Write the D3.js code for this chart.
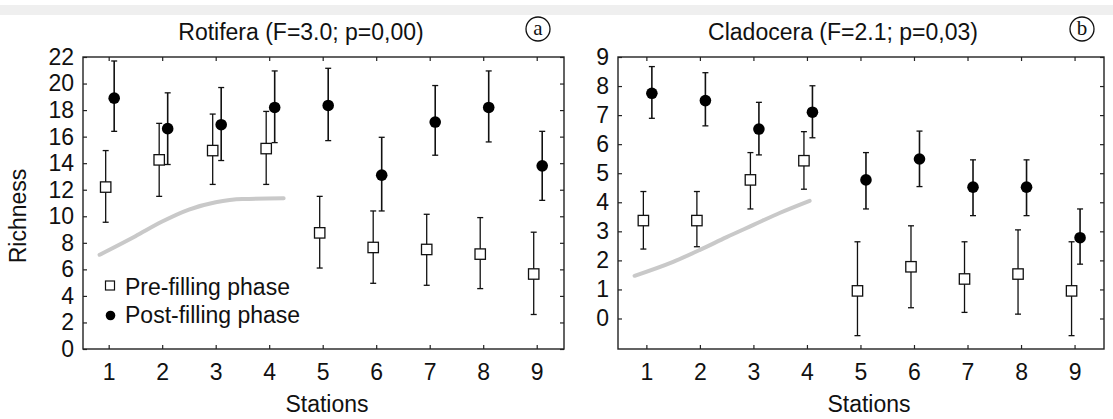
<!DOCTYPE html>
<html>
<head>
<meta charset="utf-8">
<script src="https://cdn.jsdelivr.net/npm/d3@7"></script>
<style>
  body { margin: 0; background: #fff; }
  svg text { font-family: "Liberation Sans", Arial, sans-serif; fill: #111; }
</style>
</head>
<body>
<script>
// data
var stations = [1, 2, 3, 4, 5, 6, 7, 8, 9];
var rotTicks = [0, 2, 4, 6, 8, 10, 12, 14, 16, 18, 20, 22];
var cladTicks = [0, 1, 2, 3, 4, 5, 6, 7, 8, 9];

// Rotifera
var rotPreMean  = [12.2, 14.25, 14.95, 15.1, 8.75, 7.65, 7.5, 7.15, 5.65];
var rotPreLow   = [9.55, 11.5, 12.4, 12.4, 6.1, 4.95, 4.8, 4.55, 2.6];
var rotPreHigh  = [14.95, 17.0, 17.7, 17.9, 11.5, 10.4, 10.15, 9.9, 8.8];
var rotPostMean = [18.9, 16.6, 16.9, 18.2, 18.35, 13.1, 17.1, 18.2, 13.8];
var rotPostLow  = [16.4, 13.9, 14.2, 15.55, 15.7, 10.4, 14.6, 15.6, 11.2];
var rotPostHigh = [21.7, 19.3, 19.7, 20.95, 21.15, 15.95, 19.85, 20.95, 16.4];
var rotTrendX = [0.83, 1.5, 2, 2.5, 3, 3.5, 4.27];
var rotTrendY = [7.1, 8.5, 9.6, 10.5, 11.05, 11.3, 11.35];

// Cladocera
var cladPreMean  = [3.37, 3.37, 4.77, 5.43, 0.95, 1.78, 1.36, 1.53, 0.95];
var cladPreLow   = [2.39, 2.47, 3.77, 4.45, -0.59, 0.37, 0.21, 0.15, -0.59];
var cladPreHigh  = [4.37, 4.37, 5.71, 6.43, 2.64, 3.19, 2.64, 3.05, 2.64];
var cladPostMean = [7.75, 7.5, 6.52, 7.1, 4.77, 5.49, 4.52, 4.52, 2.78];
var cladPostLow  = [6.89, 6.63, 5.63, 6.22, 3.77, 4.54, 3.54, 3.54, 1.87];
var cladPostHigh = [8.67, 8.46, 7.44, 8.01, 5.71, 6.45, 5.46, 5.46, 3.77];
var cladTrendX = [0.78, 1.5, 2, 2.5, 3, 3.5, 4.05];
var cladTrendY = [1.47, 1.95, 2.36, 2.8, 3.22, 3.64, 4.05];

var legendLabels = ["Pre-filling phase", "Post-filling phase"];

var width = 1113, height = 419;
var fs = "23px";
var svg = d3.select("body").append("svg")
    .attr("width", width)
    .attr("height", height);

// grå list högst upp
svg.append("rect").attr("x", 0).attr("y", 5).attr("width", width).attr("height", 10)
    .attr("fill", "#efefef");

function drawPanel(p) {
    var x = d3.scaleLinear().domain(p.xDomain).range([p.left, p.right]);
    var y = d3.scaleLinear().domain(p.yDomain).range([349, 57]);
    var g = svg.append("g");

    // axes, ticks pointing inwards
    g.append("g").attr("transform", "translate(" + p.left + ",0)")
        .call(d3.axisLeft(y).tickValues(p.yTicks).tickSizeInner(-4).tickSizeOuter(0).tickPadding(9));
    g.append("g").attr("transform", "translate(" + p.right + ",0)")
        .call(d3.axisRight(y).tickValues(p.yTicks).tickSizeInner(-4).tickSizeOuter(0).tickFormat(""));
    g.append("g").attr("transform", "translate(0,349)")
        .call(d3.axisBottom(x).tickValues(stations).tickSizeInner(-4).tickSizeOuter(0).tickPadding(15));
    g.append("g").attr("transform", "translate(0,57)")
        .call(d3.axisTop(x).tickValues(stations).tickSizeInner(-4).tickSizeOuter(0).tickFormat(""));
    g.selectAll(".domain").remove();
    g.selectAll(".tick line").attr("stroke", "#222").attr("stroke-width", 1.2);
    g.selectAll(".tick text").style("font-size", fs).attr("fill", "#111");

    g.append("rect").attr("x", p.left).attr("y", 57)
        .attr("width", p.right - p.left).attr("height", 292)
        .attr("fill", "none").attr("stroke", "#222").attr("stroke-width", 1.4);

    // grey trend line
    var trend = p.trendX.map(function(d, i) { return [d, p.trendY[i]]; });
    g.append("path").datum(trend)
        .attr("d", d3.line().x(function(d) { return x(d[0]); }).y(function(d) { return y(d[1]); })
            .curve(d3.curveMonotoneX))
        .attr("fill", "none").attr("stroke", "#c9c9c9").attr("stroke-width", 4)
        .attr("stroke-linecap", "round");

    // error bars
    function bars(low, high, dx, sw) {
        var eg = g.append("g");
        stations.forEach(function(s, i) {
            var cx = x(s) + dx;
            eg.append("line").attr("x1", cx).attr("x2", cx)
                .attr("y1", y(low[i])).attr("y2", y(high[i]))
                .attr("stroke", "#111").attr("stroke-width", sw);
            [low[i], high[i]].forEach(function(v) {
                eg.append("line").attr("x1", cx - 3).attr("x2", cx + 3)
                    .attr("y1", y(v)).attr("y2", y(v))
                    .attr("stroke", "#111").attr("stroke-width", 1.3);
            });
        });
    }
    bars(p.preLow, p.preHigh, -3, 1.3);
    bars(p.postLow, p.postHigh, 5.5, 1.6);

    g.selectAll("rect.pre").data(p.preMean).enter().append("rect")
        .attr("class", "pre")
        .attr("x", function(d, i) { return x(stations[i]) - 3 - 5.2; })
        .attr("y", function(d) { return y(d) - 5.2; })
        .attr("width", 10.4).attr("height", 10.4)
        .attr("fill", "#fff").attr("stroke", "#111").attr("stroke-width", 1.3);
    g.selectAll("circle.post").data(p.postMean).enter().append("circle")
        .attr("class", "post")
        .attr("cx", function(d, i) { return x(stations[i]) + 5.5; })
        .attr("cy", function(d) { return y(d); })
        .attr("r", 5.8).attr("fill", "#000");

    // titles
    g.append("text").attr("x", p.titleX).attr("y", 40).attr("text-anchor", "middle")
        .style("font-size", fs).text(p.title);
    g.append("circle").attr("cx", p.tagX).attr("cy", 29).attr("r", 12)
        .attr("fill", "none").attr("stroke", "#111").attr("stroke-width", 1.3);
    g.append("text").attr("x", p.tagX).attr("y", 35).attr("text-anchor", "middle")
        .style("font-family", "'Liberation Serif', 'Times New Roman', serif")
        .style("font-size", "21px").text(p.tag);
    g.append("text").attr("x", p.xLabelX).attr("y", 412).attr("text-anchor", "middle")
        .style("font-size", fs).text("Stations");
}

drawPanel({
    left: 83, right: 564, xDomain: [0.52, 9.51], yDomain: [0, 22], yTicks: rotTicks,
    preMean: rotPreMean, preLow: rotPreLow, preHigh: rotPreHigh,
    postMean: rotPostMean, postLow: rotPostLow, postHigh: rotPostHigh,
    trendX: rotTrendX, trendY: rotTrendY,
    title: "Rotifera (F=3.0; p=0,00)", titleX: 301, tag: "a", tagX: 538, xLabelX: 327
});
drawPanel({
    left: 618, right: 1104, xDomain: [0.47, 9.55], yDomain: [-1.05, 9], yTicks: cladTicks,
    preMean: cladPreMean, preLow: cladPreLow, preHigh: cladPreHigh,
    postMean: cladPostMean, postLow: cladPostLow, postHigh: cladPostHigh,
    trendX: cladTrendX, trendY: cladTrendY,
    title: "Cladocera (F=2.1; p=0,03)", titleX: 843, tag: "b", tagX: 1082, xLabelX: 869
});

// y axis label
svg.append("text").attr("transform", "translate(26,216) rotate(-90)")
    .attr("text-anchor", "middle").style("font-size", fs).text("Richness");

// legend
var legend = svg.append("g");
legend.append("rect").attr("x", 105.5).attr("y", 281).attr("width", 9).attr("height", 9)
    .attr("fill", "#fff").attr("stroke", "#111").attr("stroke-width", 1.2);
legend.append("circle").attr("cx", 110.5).attr("cy", 315.5).attr("r", 4.8).attr("fill", "#000");
legend.selectAll("text").data(legendLabels).enter().append("text")
    .attr("x", 125)
    .attr("y", function(d, i) { return 295 + i * 28; })
    .style("font-size", fs)
    .text(function(d) { return d; });
</script>
</body>
</html>
